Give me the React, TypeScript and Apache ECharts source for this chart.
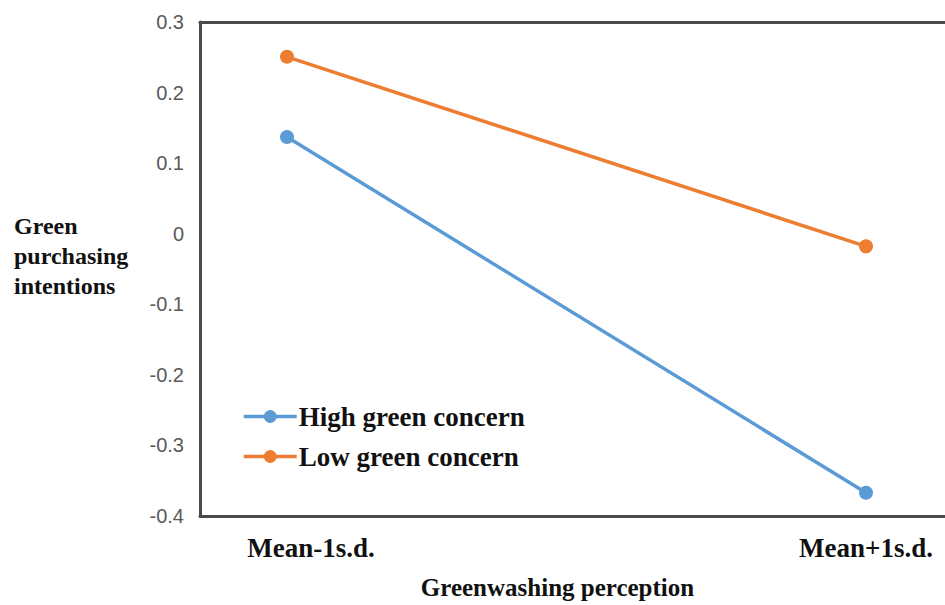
import React, { useEffect, useRef } from "react";
import * as echarts from "echarts";

const categories = ["Mean-1s.d.", "Mean+1s.d."];
const highConcern = [0.138, -0.363];
const lowConcern = [0.251, -0.016];
const yMin = -0.4;
const yMax = 0.3;
const yStep = 0.1;
const seriesNames = ["High green concern", "Low green concern"];
const yTitle = "Green\npurchasing\nintentions";
const xTitle = "Greenwashing perception";

const SERIF = "'Liberation Serif', 'Times New Roman', serif";

export default function App() {
  const ref = useRef<HTMLDivElement>(null);
  useEffect(() => {
    if (!ref.current) return;
    const chart = echarts.init(ref.current, undefined, { renderer: "svg" });
    const catFont = { fontFamily: SERIF, fontWeight: "bold", fontSize: 27, color: "#111" };
    const frameLine = { show: true, onZero: false, lineStyle: { color: "#4a4a4a", width: 3 } };
    chart.setOption({
      animation: false,
      backgroundColor: "#fff",
      color: ["#5B9BD5", "#ED7D31"],
      grid: [
        { left: 200, right: 0, top: 22, bottom: 86 },
        { left: 287, right: 79, top: 22, bottom: 86 },
      ],
      xAxis: [
        {
          gridIndex: 0,
          type: "category",
          data: [""],
          position: "bottom",
          axisLine: frameLine,
          axisTick: { show: false },
          axisLabel: { show: false },
          splitLine: { show: false },
          name: xTitle,
          nameLocation: "middle",
          nameGap: 59,
          nameTextStyle: { fontFamily: SERIF, fontWeight: "bold", fontSize: 25, color: "#111", padding: [0, 30, 0, 0] },
        },
        {
          gridIndex: 0,
          type: "category",
          data: [""],
          position: "top",
          axisLine: frameLine,
          axisTick: { show: false },
          axisLabel: { show: false },
          splitLine: { show: false },
        },
        {
          gridIndex: 1,
          type: "category",
          data: categories,
          boundaryGap: false,
          axisLine: { show: false },
          axisTick: { show: false },
          splitLine: { show: false },
          axisLabel: {
            margin: 15,
            interval: 0,
            ...catFont,
            formatter: (v: string, i: number) => (i === 0 ? `{a|${v}}` : `{b|${v}}`),
            rich: {
              a: { ...catFont, padding: [0, 0, 0, 48] },
              b: { ...catFont },
            },
          },
        },
      ],
      yAxis: [
        {
          gridIndex: 0,
          type: "value",
          min: yMin,
          max: yMax,
          interval: yStep,
          axisLine: frameLine,
          axisTick: { show: false },
          splitLine: { show: false },
          axisLabel: {
            margin: 16,
            color: "#595959",
            fontSize: 20,
            fontFamily: "'Liberation Sans', Arial, sans-serif",
            formatter: (v: number) => String(Math.round(v * 10) / 10),
          },
        },
        {
          gridIndex: 1,
          type: "value",
          min: yMin,
          max: yMax,
          interval: yStep,
          show: false,
          splitLine: { show: false },
        },
      ],
      legend: {
        orient: "vertical",
        left: 242,
        top: 403,
        padding: 0,
        itemWidth: 53,
        itemHeight: 16,
        itemGap: 13,
        data: seriesNames,
        lineStyle: { width: 3.5 },
        textStyle: { fontFamily: SERIF, fontWeight: "bold", fontSize: 27, color: "#111", padding: [0, 0, 0, -3] },
      },
      graphic: [
        {
          type: "text",
          left: 14,
          top: 211,
          style: {
            text: yTitle,
            fontFamily: SERIF,
            fontWeight: "bold",
            fontSize: 24,
            lineHeight: 30,
            fill: "#111",
          },
        },
      ],
      series: [
        {
          name: seriesNames[0],
          type: "line",
          xAxisIndex: 2,
          yAxisIndex: 1,
          data: highConcern,
          symbol: "circle",
          symbolSize: 14,
          lineStyle: { width: 3.5 },
        },
        {
          name: seriesNames[1],
          type: "line",
          xAxisIndex: 2,
          yAxisIndex: 1,
          data: lowConcern,
          symbol: "circle",
          symbolSize: 14,
          lineStyle: { width: 3.5 },
        },
      ],
    });
    return () => chart.dispose();
  }, []);
  return (
    <div
      ref={ref}
      style={{ position: "fixed", left: 0, top: 0, width: 945, height: 605, background: "#fff" }}
    />
  );
}
